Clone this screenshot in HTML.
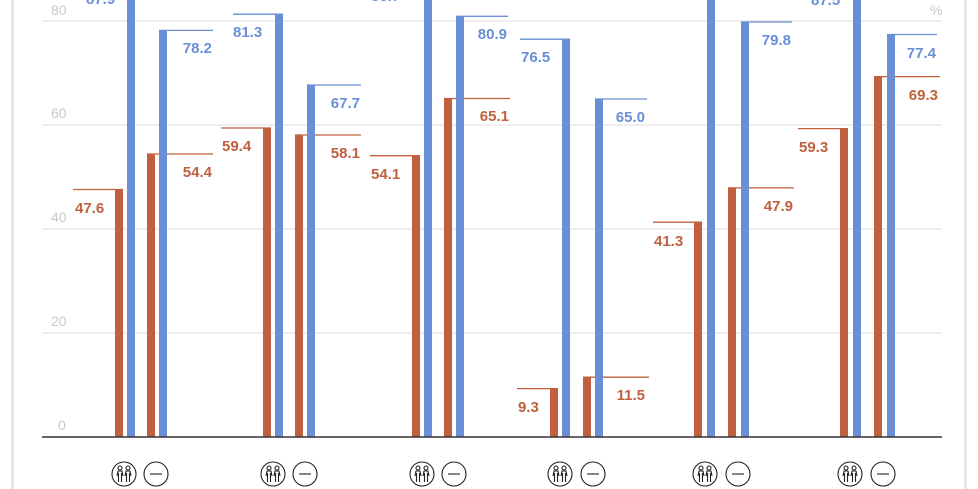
<!DOCTYPE html>
<html><head><meta charset="utf-8"><style>
html,body{margin:0;padding:0;background:#fff;width:978px;height:489px;overflow:hidden}
svg{display:block}
text{font-family:"Liberation Sans","DejaVu Sans",sans-serif}
.b{fill:#6a8fd6}.o{fill:#c0603e}
.lb{stroke:#6a8fd6;stroke-width:1.3}.lo{stroke:#c0603e;stroke-width:1.3}
.tb{fill:#6a8fd6;font-size:15px;font-weight:bold}.to{fill:#c0603e;font-size:15px;font-weight:bold}
.ax{fill:#c8c8c8;font-size:14px}
</style></head><body>
<svg width="978" height="489" viewBox="0 0 978 489">
<rect x="11" y="0" width="3" height="489" fill="#e6e6e6"/>
<rect x="964" y="0" width="3" height="489" fill="#e6e6e6"/>
<g stroke="#e0dcd8" stroke-width="1">
<line x1="42" y1="21" x2="942" y2="21"/><line x1="42" y1="125" x2="942" y2="125"/>
<line x1="42" y1="229" x2="942" y2="229"/><line x1="42" y1="333" x2="942" y2="333"/>
</g>
<g class="ax"><text x="51" y="15">80</text><text x="51" y="118">60</text><text x="51" y="222">40</text><text x="51" y="326">20</text><text x="58" y="430">0</text><text x="930" y="15">%</text></g>

<!-- G1 -->
<rect class="o" x="115" y="189.5" width="8" height="247.5"/><line class="lo" x1="73" y1="189.5" x2="123" y2="189.5"/><text class="to" x="75" y="213">47.6</text>
<rect class="b" x="127" y="-1" width="8" height="438"/><text class="tb" x="86" y="4">87.9</text>
<rect class="o" x="147" y="154" width="8" height="283"/><line class="lo" x1="147" y1="154" x2="213" y2="154"/><text class="to" x="212" y="177" text-anchor="end">54.4</text>
<rect class="b" x="159" y="30.4" width="8" height="406.6"/><line class="lb" x1="159" y1="30.4" x2="213" y2="30.4"/><text class="tb" x="212" y="53" text-anchor="end">78.2</text>
<!-- G2 -->
<rect class="o" x="263" y="128" width="8" height="309"/><line class="lo" x1="221" y1="128" x2="271" y2="128"/><text class="to" x="222" y="151">59.4</text>
<rect class="b" x="275" y="14.2" width="8" height="422.8"/><line class="lb" x1="233" y1="14.2" x2="283" y2="14.2"/><text class="tb" x="233" y="37">81.3</text>
<rect class="o" x="295" y="135" width="8" height="302"/><line class="lo" x1="295" y1="135" x2="361" y2="135"/><text class="to" x="360" y="158" text-anchor="end">58.1</text>
<rect class="b" x="307" y="85" width="8" height="352"/><line class="lb" x1="307" y1="85" x2="361" y2="85"/><text class="tb" x="360" y="108" text-anchor="end">67.7</text>
<!-- G3 -->
<rect class="o" x="412" y="155.7" width="8" height="281.3"/><line class="lo" x1="370" y1="155.7" x2="420" y2="155.7"/><text class="to" x="371" y="179">54.1</text>
<rect class="b" x="424" y="-1" width="8" height="438"/><text class="tb" x="371" y="1">88.7</text>
<rect class="o" x="444" y="98.5" width="8" height="338.5"/><line class="lo" x1="444" y1="98.5" x2="510" y2="98.5"/><text class="to" x="509" y="121" text-anchor="end">65.1</text>
<rect class="b" x="456" y="16.3" width="8" height="420.7"/><line class="lb" x1="456" y1="16.3" x2="508" y2="16.3"/><text class="tb" x="507" y="39" text-anchor="end">80.9</text>
<!-- G4 -->
<rect class="o" x="550" y="388.6" width="8" height="48.4"/><line class="lo" x1="517" y1="388.6" x2="558" y2="388.6"/><text class="to" x="518" y="412">9.3</text>
<rect class="b" x="562" y="39.2" width="8" height="397.8"/><line class="lb" x1="520" y1="39.2" x2="570" y2="39.2"/><text class="tb" x="521" y="62">76.5</text>
<rect class="o" x="583" y="377.2" width="8" height="59.8"/><line class="lo" x1="583" y1="377.2" x2="649" y2="377.2"/><text class="to" x="645" y="400" text-anchor="end">11.5</text>
<rect class="b" x="595" y="99" width="8" height="338"/><line class="lb" x1="595" y1="99" x2="647" y2="99"/><text class="tb" x="645" y="122" text-anchor="end">65.0</text>
<!-- G5 -->
<rect class="o" x="694" y="222.2" width="8" height="214.8"/><line class="lo" x1="653" y1="222.2" x2="702" y2="222.2"/><text class="to" x="654" y="246">41.3</text>
<rect class="b" x="707" y="-1" width="8" height="438"/><text class="tb" x="666" y="-1">89.0</text>
<rect class="o" x="728" y="187.9" width="8" height="249.1"/><line class="lo" x1="728" y1="187.9" x2="794" y2="187.9"/><text class="to" x="793" y="211" text-anchor="end">47.9</text>
<rect class="b" x="741" y="22" width="8" height="415"/><line class="lb" x1="741" y1="22" x2="792" y2="22"/><text class="tb" x="791" y="45" text-anchor="end">79.8</text>
<!-- G6 -->
<rect class="o" x="840" y="128.6" width="8" height="308.4"/><line class="lo" x1="798" y1="128.6" x2="848" y2="128.6"/><text class="to" x="799" y="152">59.3</text>
<rect class="b" x="853" y="-1" width="8" height="438"/><text class="tb" x="811" y="5">87.5</text>
<rect class="o" x="874" y="76.6" width="8" height="360.4"/><line class="lo" x1="874" y1="76.6" x2="940" y2="76.6"/><text class="to" x="938" y="100" text-anchor="end">69.3</text>
<rect class="b" x="887" y="34.5" width="8" height="402.5"/><line class="lb" x1="887" y1="34.5" x2="937" y2="34.5"/><text class="tb" x="936" y="58" text-anchor="end">77.4</text>

<line x1="42" y1="437" x2="942" y2="437" stroke="#333" stroke-width="1.5"/>

<defs>
<g id="pp" fill="none" stroke="#222" stroke-width="1.1">
<circle r="12"/>
<circle cx="-4" cy="-6" r="2"/><circle cx="4" cy="-6" r="2"/>
<path d="M-7,2 L-6,-3 L-2,-3 L-1,2 M-5.5,-1 L-5.5,8 M-2.5,-1 L-2.5,8"/>
<path d="M1,2 L2,-3 L6,-3 L7,2 M2.5,-1 L2.5,8 M5.5,-1 L5.5,8"/>
</g>
<g id="mn" fill="none" stroke="#222" stroke-width="1.1"><circle r="12"/><line x1="-6" y1="0" x2="6" y2="0"/></g>
</defs>
<use href="#pp" x="124" y="474"/><use href="#mn" x="156" y="474"/>
<use href="#pp" x="273" y="474"/><use href="#mn" x="305" y="474"/>
<use href="#pp" x="422" y="474"/><use href="#mn" x="454" y="474"/>
<use href="#pp" x="560" y="474"/><use href="#mn" x="593" y="474"/>
<use href="#pp" x="705" y="474"/><use href="#mn" x="738" y="474"/>
<use href="#pp" x="850" y="474"/><use href="#mn" x="883" y="474"/>
</svg>
</body></html>
